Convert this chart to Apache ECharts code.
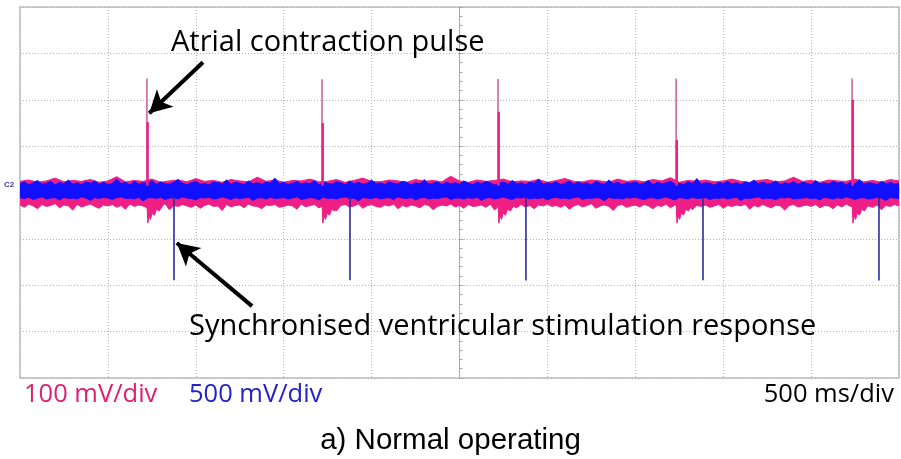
<!DOCTYPE html>
<html>
<head>
<meta charset="utf-8">
<script src="https://cdn.jsdelivr.net/npm/echarts@6/dist/echarts.min.js"></script>
<style>
html,body{margin:0;padding:0;background:#fff;}
#chart{width:901px;height:459px;}
</style>
</head>
<body>
<div id="chart"></div>
<script>
// ---- data (time in ms, amplitude in screen divisions) ----
const timeStart = -2500;
const fineStep = 25;   // ms between samples of the fine envelopes
const coarseStep = 50; // ms between samples of pinkHi
// noise envelopes (hundredths of a division)
const blueHi = [19,23,17,21,26,18,20,24,16,22,19,27,18,21,17,23,20,25,18,22,
17,20,29,19,22,16,24,18,21,20,26,17,23,19,18,22,28,20,17,21,
24,18,20,16,23,21,19,27,18,22,20,17,25,19,21,18,23,20,31,19,
22,17,20,24,18,21,19,26,16,22,20,18,23,21,17,25,19,22,18,20,
27,19,21,17,23,20,18,24,22,16,21,19,28,18,20,23,17,22,19,21,
18,25,20,17,22,19,24,21,16,20,23,18,26,19,21,17,22,20,29,18,
21,19,23,17,20,25,18,22,19,21,16,24,20,18,27,19,22,17,21,20,
23,18,20,26,17,22,19,21,24,18,20,17,23,19,30,18,21,20,16,22,
19,24,18,21,17,23,20,27,19,22,18,20,25,17,21,19,23,18,22,20,
17,26,19,21,18,24,20,22,16,23,19,28,18,21,20,17,24,19,22,18,
20];
const blueLo = [-11,-13,-10,-15,-12,-9,-14,-12,-11,-16,-10,-13,-12,-14,-9,-12,-17,-11,-13,-10,
-12,-15,-11,-9,-13,-12,-14,-10,-18,-12,-11,-13,-10,-15,-12,-11,-14,-9,-12,-13,
-16,-11,-12,-10,-14,-13,-9,-12,-15,-11,-13,-12,-10,-17,-12,-11,-14,-10,-13,-12,
-11,-14,-12,-9,-15,-13,-11,-12,-16,-10,-13,-12,-14,-11,-9,-13,-12,-18,-11,-12,
-13,-10,-14,-12,-11,-15,-9,-12,-13,-11,-16,-12,-10,-14,-12,-13,-11,-9,-15,-12,
-12,-14,-11,-13,-10,-17,-12,-11,-14,-12,-9,-13,-15,-11,-12,-10,-14,-12,-13,-11,
-16,-12,-10,-13,-12,-14,-11,-9,-15,-12,-13,-11,-12,-18,-10,-13,-12,-14,-11,-12,
-10,-13,-15,-12,-11,-14,-12,-9,-13,-16,-11,-12,-14,-10,-13,-12,-11,-15,-12,-13,
-11,-14,-12,-10,-17,-12,-13,-11,-9,-14,-12,-13,-15,-11,-12,-10,-14,-13,-12,-11,
-13,-12,-16,-10,-12,-14,-11,-13,-9,-12,-15,-12,-11,-14,-13,-10,-12,-17,-11,-12,
-13];
const pinkLo = [-27,-32,-25,-29,-35,-26,-30,-28,-24,-33,-27,-29,-38,-26,-31,-28,-25,-30,-34,-27,
-29,-26,-32,-28,-36,-25,-30,-27,-29,-33,-26,-28,-31,-24,-37,-28,-30,-26,-29,-32,
-27,-34,-28,-25,-30,-29,-39,-26,-31,-28,-27,-33,-25,-29,-30,-35,-27,-28,-26,-32,
-30,-27,-29,-36,-25,-31,-28,-26,-33,-29,-27,-30,-40,-28,-26,-31,-29,-25,-34,-28,
-26,-30,-32,-27,-29,-25,-35,-28,-31,-27,-29,-33,-26,-28,-37,-30,-27,-29,-25,-31,
-28,-34,-26,-30,-29,-27,-32,-25,-38,-28,-30,-27,-29,-33,-26,-31,-28,-35,-27,-29,
-25,-30,-28,-32,-27,-36,-29,-26,-31,-28,-24,-34,-29,-27,-30,-39,-28,-26,-32,-29,
-27,-31,-26,-29,-35,-28,-30,-25,-33,-27,-29,-31,-26,-37,-28,-30,-27,-32,-29,-26,
-34,-28,-30,-27,-29,-25,-36,-28,-31,-26,-30,-33,-27,-29,-38,-28,-26,-31,-29,-27,
-30,-26,-33,-28,-29,-35,-27,-31,-25,-30,-28,-34,-26,-29,-32,-27,-37,-28,-30,-26,
-29];
const pinkHi = [24,27,22,25,31,23,26,24,28,22,25,34,23,26,24,29,22,25,27,23,30,24,26,22,28,25,23,33,24,27,22,26,25,29,23,24,28,22,26,31,24,23,27,25,22,28,24,26,23,35,25,22,27,24,26,29,23,25,24,28,22,26,30,24,23,27,25,22,29,24,26,23,28,25,32,22,26,24,27,23,25,29,24,22,26,28,23,25,33,24,26,22,27,25,24,29,23,26,22,28,25];

// atrial pulses (pink channel)
const pinkSpikeT   = [-1778, -782, 219, 1232, 2233];
const pinkSpikeTop = [2.46, 2.44, 2.45, 2.46, 2.46];
const pinkSpikeMid = [1.52, 1.50, 1.74, 1.13, 2.00];
// recovery dip after each atrial pulse (offset ms, depth div)
const dipOffset = [0, 5, 12, 20, 30, 42, 55, 70, 90];
const dipDepth  = [-0.25, -0.66, -0.50, -0.58, -0.44, -0.49, -0.36, -0.40, -0.28];
// ventricular stimulation responses (blue channel)
const blueSpikeT   = [-1624, -623, 378, 1385, 2386];
const blueSpikeBot = [-1.89, -1.89, -1.90, -1.89, -1.90];

// annotation arrows [tail, tip] in data coords
const arrow1 = [[-1459, 2.81], [-1765, 1.71]];
const arrow2 = [[-1180, -2.45], [-1608, -1.09]];

const texts = {
  atrial: 'Atrial contraction pulse',
  sync: 'Synchronised ventricular stimulation response',
  ch1: '100 mV/div',
  ch2: '500 mV/div',
  time: '500 ms/div',
  caption: 'a) Normal operating'
};

// ---- build series data ----
function env(arr, step){ return arr.map((v,i)=>[timeStart + i*step, v/100]); }
function spikes(ts, from, to){
  const d=[]; ts.forEach((t,i)=>{ d.push([t, from[i]]); d.push([t, to[i]]); d.push(null); }); return d;
}
const spikeBase = pinkSpikeT.map(()=>0.15);
const blueBase = blueSpikeT.map(()=>-0.1);
const dips = [];
pinkSpikeT.forEach(t=>{ dipOffset.forEach((o,j)=>dips.push([t+o, dipDepth[j]])); dips.push(null); });

const PINK = '#ee1e84', BLUE = '#1010ff';
function band(data, color, z, origin){
  return {type:'line', data:data, symbol:'none', silent:true, animation:false, z:z,
    lineStyle:{color:color, width:1}, areaStyle:{color:color, opacity:1, origin:origin}};
}

const chart = echarts.init(document.getElementById('chart'));
chart.setOption({
  animation:false,
  grid:{left:20, right:2, top:7, bottom:81, show:true, borderColor:'#bdbdbd', borderWidth:1.5},
  xAxis:{type:'value', min:-2500, max:2500, interval:500,
    axisLine:{onZero:true, lineStyle:{color:'#a8a8a8', width:1}},
    axisTick:{show:true, inside:true, length:4, lineStyle:{color:'#a8a8a8'}},
    minorTick:{show:true, splitNumber:5, length:3, lineStyle:{color:'#a8a8a8'}},
    axisLabel:{show:false},
    splitLine:{show:true, lineStyle:{color:'#b4b4b4', type:[1,2], width:1}}},
  yAxis:{type:'value', min:-4, max:4, interval:1,
    axisLine:{onZero:true, lineStyle:{color:'#a8a8a8', width:1}},
    axisTick:{show:true, inside:true, length:4, lineStyle:{color:'#a8a8a8'}},
    minorTick:{show:true, splitNumber:5, length:3, lineStyle:{color:'#a8a8a8'}},
    axisLabel:{show:false},
    splitLine:{show:true, lineStyle:{color:'#b4b4b4', type:[1,2], width:1}}},
  series:[
    band(env(pinkHi, coarseStep), PINK, 2, -0.1),
    band(env(pinkLo, fineStep), PINK, 2, 0.1),
    {type:'line', data:dips, symbol:'none', silent:true, z:2, connectNulls:false,
      lineStyle:{color:PINK, width:1}, areaStyle:{color:PINK, opacity:1, origin:0.1}},
    band(env(blueHi, fineStep), BLUE, 3, -0.1),
    band(env(blueLo, fineStep), BLUE, 3, 0.1),
    {type:'line', data:spikes(blueSpikeT, blueBase, blueSpikeBot), symbol:'none', silent:true, z:4,
      lineStyle:{color:'#2b2ba0', width:1.6}},
    {type:'line', data:spikes(pinkSpikeT, spikeBase, pinkSpikeTop), symbol:'none', silent:true, z:5,
      lineStyle:{color:'#c2448a', width:1.3}},
    {type:'line', data:spikes(pinkSpikeT.map(t=>t+4), spikeBase, pinkSpikeMid), symbol:'none', silent:true, z:5,
      lineStyle:{color:PINK, width:2.4},
      markLine:{silent:true, symbol:['none','arrow'], symbolSize:[18,22], animation:false,
        label:{show:false}, lineStyle:{color:'#000', width:4, type:'solid'},
        data:[
          [{coord:arrow1[0]},{coord:arrow1[1]}],
          [{coord:arrow2[0]},{coord:arrow2[1]}]
        ]}}
  ],
  graphic:[
    {type:'text', left:171, top:28, z:10, style:{text:texts.atrial, font:'29px "Open Sans"', fill:'#000'}},
    {type:'text', left:189, top:312, z:10, style:{text:texts.sync, font:'29px "Open Sans"', fill:'#000'}},
    {type:'text', left:24, top:382, z:10, style:{text:texts.ch1, font:'25.5px "Open Sans"', fill:'#e0206e'}},
    {type:'text', left:189, top:382, z:10, style:{text:texts.ch2, font:'25.5px "Open Sans"', fill:'#2222c8'}},
    {type:'text', right:7, top:382, z:10, style:{text:texts.time, font:'25.5px "Open Sans"', fill:'#000'}},
    {type:'text', left:'center', top:426, z:10,
      style:{text:texts.caption, font:'29.5px "Liberation Sans"', fill:'#000'}},
    {type:'text', left:4, top:181, z:10, style:{text:'C2', font:'bold 8px "Liberation Sans"', fill:'#3a3aa0'}}
  ]
});
</script>
</body>
</html>
